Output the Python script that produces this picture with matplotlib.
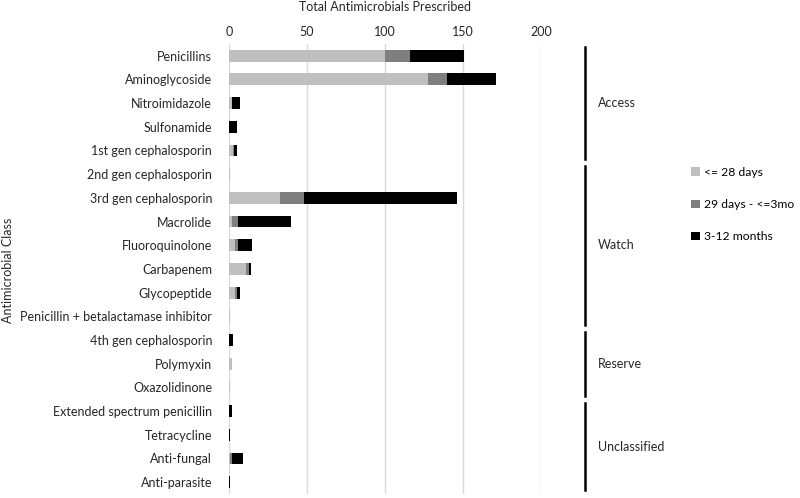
import numpy as np
import matplotlib.pyplot as plt

plt.rcParams['font.family'] = ['Lato', 'DejaVu Sans']

# data
classes = ['Penicillins', 'Aminoglycoside', 'Nitroimidazole', 'Sulfonamide',
           '1st gen cephalosporin', '2nd gen cephalosporin', '3rd gen cephalosporin',
           'Macrolide', 'Fluoroquinolone', 'Carbapenem', 'Glycopeptide',
           'Penicillin + betalactamase inhibitor', '4th gen cephalosporin',
           'Polymyxin', 'Oxazolidinone', 'Extended spectrum penicillin',
           'Tetracycline', 'Anti-fungal', 'Anti-parasite']
upto_28d = [100, 128, 2, 0, 3, 0.5, 33, 2, 4, 11, 4, 0.5, 0, 2, 0.5, 0, 0, 1, 0]
d29_3mo = [16, 12, 0, 0, 0.5, 0, 15, 4, 2, 2, 1, 0, 0, 0, 0, 0, 0, 1, 0]
m3_12 = [35, 31, 5, 5, 1.5, 0, 98, 34, 9, 1, 2, 0, 2.5, 0, 0, 2, 0.8, 7, 0.8]
series_names = ['<= 28 days', '29 days - <=3mo', '3-12 months']
colors = ['#bfbfbf', '#7f7f7f', '#000000']

groups = ['Access', 'Watch', 'Reserve', 'Unclassified']
group_sizes = [5, 7, 3, 4]

fs = 9
txt = '#262626'
fig = plt.figure(figsize=(8, 4.98), dpi=100)
ax = fig.add_axes([0.286, 0.008, 0.39, 0.904])

y = np.arange(len(classes))
left = np.zeros(len(classes))
handles = []
for vals, name, c in zip([upto_28d, d29_3mo, m3_12], series_names, colors):
    b = ax.barh(y, vals, left=left, height=0.5, color=c, label=name, zorder=3)
    handles.append(b)
    left += np.array(vals)

ax.set_ylim(len(classes) - 0.5, -0.5)
ax.set_xlim(0, 200)
ax.set_yticks(y)
ax.set_yticklabels(classes, fontsize=fs, color=txt)
ax.set_xticks([0, 50, 100, 150, 200])
ax.xaxis.tick_top()
ax.tick_params(axis='x', labelsize=fs, colors=txt, length=0, pad=4)
ax.tick_params(axis='y', length=0, pad=12)
ax.grid(axis='x', color='#d9d9d9', linewidth=1, zorder=0)
for s in ax.spines.values():
    s.set_visible(False)

fig.text(385 / 800, 1 - 7 / 498, 'Total Antimicrobials Prescribed', fontsize=fs,
         color=txt, ha='center', va='center')
fig.text(8 / 800, 1 - 270 / 498, 'Antimicrobial Class', fontsize=fs, color=txt,
         rotation=90, ha='center', va='center')

# WHO AWaRe brackets
start = 0
for g, n in zip(groups, group_sizes):
    y0 = start - 0.5 + 0.15
    y1 = start + n - 0.5 - 0.15
    ax.plot([1.141, 1.141], [y0, y1], color='black', lw=1.8,
            transform=ax.get_yaxis_transform(), clip_on=False)
    ax.text(1.183, (y0 + y1) / 2, g, fontsize=fs, color=txt, va='center',
            transform=ax.get_yaxis_transform())
    start += n

fig.legend(handles=handles, labels=series_names, loc='upper left',
           bbox_to_anchor=(0.864, 0.665), frameon=False, fontsize=8.7,
           handlelength=0.7, handleheight=0.7, handletextpad=0.35,
           labelspacing=1.75, borderaxespad=0, borderpad=0)

plt.savefig('out.png', dpi=100)
